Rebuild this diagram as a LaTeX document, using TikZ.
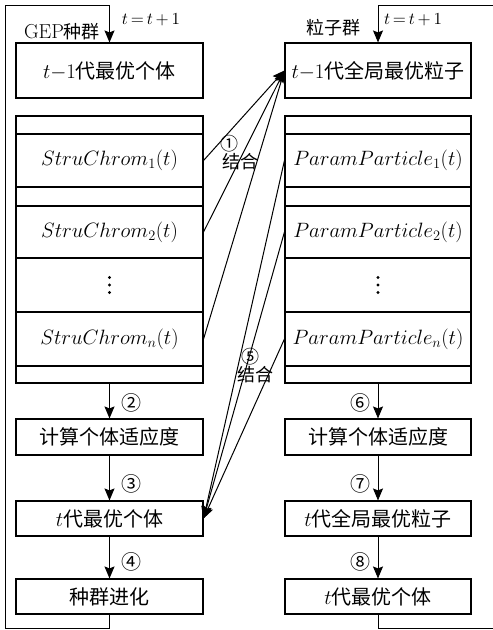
\documentclass[tikz,border=0pt]{standalone}
\usepackage{fontspec}
\newfontfamily\cjk{Noto Sans CJK SC}
\usetikzlibrary{arrows.meta}
\newcommand{\tinc}{\resizebox{58pt}{!}{$t\,{=}\,t\,{+}\,1$}}
\begin{document}
\begin{tikzpicture}[x=1pt,y=-1pt,
  box/.style={draw, line width=1.1pt, minimum width=187pt, inner sep=0pt,
    font=\fontsize{20}{24}\selectfont\cjk},
  mbox/.style={box, font=\fontsize{21}{25}\selectfont},
  arr/.style={-{Stealth[length=12pt,width=10pt,inset=2pt]}, line width=1pt},
  lab/.style={inner sep=0pt, font=\fontsize{18}{22}\selectfont},
  num/.style={inner sep=0pt, font=\fontsize{18}{22}\selectfont\cjk},
  circ/.style={inner sep=0pt, font=\fontsize{20}{24}\selectfont\cjk},
  mlab/.style={inner sep=0pt},
  dot/.style={fill=black, draw=none}
]
\useasboundingbox (0,0) rectangle (493,630);
\clip (0,0) rectangle (493,630);

% left column
\node[box, minimum height=55pt] (Ltop) at (109.5,70.5) {$t{-}1$代最优个体};
\node[box, minimum height=18pt] (L0) at (109.5,125) {};
\node[mbox, minimum height=53pt] (L1) at (109.5,160.5) {$StruChrom_1(t)$};
\node[box, minimum height=19pt] (La) at (109.5,196.5) {};
\node[mbox, minimum height=52pt] (L2) at (109.5,232) {$StruChrom_2(t)$};
\node[box, minimum height=54pt] (Ld) at (109.5,285) {};
\node[mbox, minimum height=54pt] (Ln) at (109.5,339) {$StruChrom_n(t)$};
\node[box, minimum height=17pt] (Lb) at (109.5,374.5) {};
\node[box, minimum height=36pt] (Lfit) at (109.5,437) {计算个体适应度};
\node[box, minimum height=35pt] (Lbest) at (109.5,518.5) {$t$代最优个体};
\node[box, minimum height=35pt] (Levo) at (109.5,596.5) {种群进化};

% right column
\node[box, minimum width=186pt, minimum height=55pt] (Rtop) at (378,70.5) {$t{-}1$代全局最优粒子};
\node[box, minimum width=186pt, minimum height=18pt] (R0) at (378,125) {};
\node[mbox, minimum width=186pt, minimum height=53pt] (R1) at (378,160.5) {$ParamParticle_1(t)$};
\node[box, minimum width=186pt, minimum height=19pt] (Ra) at (378,196.5) {};
\node[mbox, minimum width=186pt, minimum height=52pt] (R2) at (378,232) {$ParamParticle_2(t)$};
\node[box, minimum width=186pt, minimum height=54pt] (Rd) at (378,285) {};
\node[mbox, minimum width=186pt, minimum height=54pt] (Rn) at (378,339) {$ParamParticle_n(t)$};
\node[box, minimum width=186pt, minimum height=17pt] (Rb) at (378,374.5) {};
\node[box, minimum width=186pt, minimum height=36pt] (Rfit) at (378,437) {计算个体适应度};
\node[box, minimum width=186pt, minimum height=35pt] (Rbest) at (378,518.5) {$t$代全局最优粒子};
\node[box, minimum width=186pt, minimum height=35pt] (Revo) at (378,596.5) {$t$代最优个体};

% vertical dots
\foreach \n in {Ld,Rd}{
  \foreach \dy in {-7.5,0,7.5}{
    \fill[dot] ([yshift=-\dy pt]\n.center) circle[radius=1.7pt];
  }
}

% labels
\node[lab] (gep) at (62,32) {\resizebox{40pt}{!}{GEP}{\cjk 种群}};
\node[mlab] (tl) at (151,20) {\tinc};
\node[lab] (pq) at (333,28) {\cjk 粒子群};
\node[mlab] (tr) at (413,20) {\tinc};

\node[num] (n1) at (229.5,144) {①};
\node[num] (j1) at (240,162) {结合};
\node[num] (n5) at (250,357) {⑤};
\node[num] (j5) at (255,375) {结合};
\node[circ] (n2) at (131,403) {②};
\node[circ] (n3) at (131,484) {③};
\node[circ] (n4) at (131,562) {④};
\node[circ] (n6) at (360,403) {⑥};
\node[circ] (n7) at (360,484) {⑦};
\node[circ] (n8) at (360,562) {⑧};

% vertical flow
\draw[arr] (Lb.south) -- (Lfit.north);
\draw[arr] (Lfit.south) -- (Lbest.north);
\draw[arr] (Lbest.south) -- (Levo.north);
\draw[arr] (Rb.south) -- (Rfit.north);
\draw[arr] (Rfit.south) -- (Rbest.north);
\draw[arr] (Rbest.south) -- (Revo.north);

% loops
\coordinate (lbot) at (5,628);
\coordinate (ltopc) at (5,5);
\draw[arr] (Levo.south) |- (lbot) -- (ltopc) -| (Ltop.north);
\coordinate (rbot) at (510,628);
\coordinate (rtopc) at (510,5);
\draw[arr] (Revo.south) |- (rbot) -- (rtopc) -| (Rtop.north);

% cross connections
\draw[arr] (L1.east) -- (Rtop.west);
\draw[arr] (L2.east) -- (Rtop.west);
\draw[arr] (Ln.east) -- (Rtop.west);
\draw[arr] (R1.west) -- (Lbest.east);
\draw[arr] (R2.west) -- (Lbest.east);
\draw[arr] (Rn.west) -- (Lbest.east);
\end{tikzpicture}
\end{document}
